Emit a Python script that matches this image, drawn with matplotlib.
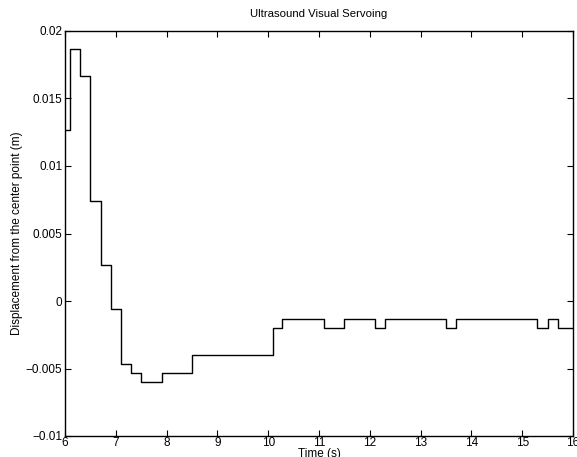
import numpy as np
import matplotlib.pyplot as plt

plt.rcParams['font.family'] = ['Liberation Sans', 'DejaVu Sans']

# step changes of the displacement (time in s, value in m)
t = [6.0, 6.1, 6.3, 6.5, 6.7, 6.9, 7.1, 7.3, 7.5, 7.9, 8.5, 10.1, 10.27,
     11.1, 11.5, 12.1, 12.3, 13.5, 13.7, 15.3, 15.5, 15.7, 16.0]
d = [0.0127, 0.0187, 0.0167, 0.0074, 0.0027, -0.0006, -0.0047, -0.0053,
     -0.006, -0.0053, -0.004, -0.002, -0.00133, -0.002, -0.00133, -0.002,
     -0.00133, -0.002, -0.00133, -0.002, -0.00133, -0.002, -0.002]

xticks = np.arange(6, 17, 1)
yticks = [-0.01, -0.005, 0, 0.005, 0.01, 0.015, 0.02]
ylabels = ['\u22120.01', '\u22120.005', '0', '0.005', '0.01', '0.015', '0.02']

fig = plt.figure(figsize=(5.77, 4.57), dpi=100)
ax = fig.add_axes([65 / 577, 1 - 436 / 457, 508 / 577, 405 / 457])
ax.step(t, d, where='post', color='black', linewidth=1.0)

ax.set_xlim(6, 16)
ax.set_ylim(-0.01, 0.02)
ax.set_xticks(xticks)
ax.set_xticklabels([str(v) for v in xticks])
ax.set_yticks(yticks)
ax.set_yticklabels(ylabels)
ax.tick_params(direction='in', top=True, right=True, length=4.5, width=0.8,
               labelsize=8.5, pad=2)
ax.tick_params(axis='x', pad=1)
for s in ax.spines.values():
    s.set_linewidth(1.0)

ax.set_title('Ultrasound Visual Servoing', fontsize=8.2, pad=10)
ax.set_xlabel('Time (s)', fontsize=8.5, labelpad=-1)
ax.set_ylabel('Displacement from the center point (m)', fontsize=8.5, labelpad=2)

fig.savefig('out.png', dpi=100)
